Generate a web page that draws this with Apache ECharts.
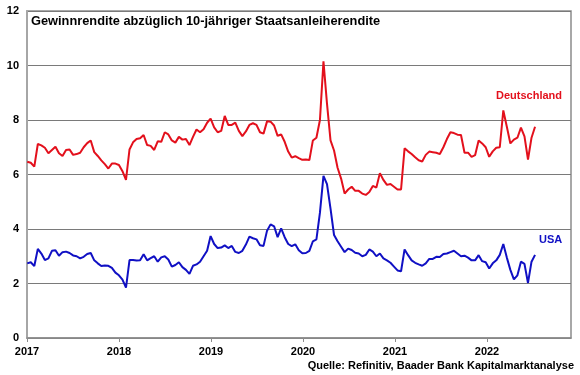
<!DOCTYPE html>
<html>
<head>
<meta charset="utf-8">
<script src="https://cdn.jsdelivr.net/npm/echarts@6/dist/echarts.min.js"></script>
<style>html,body{margin:0;padding:0;background:#fff}#c{width:580px;height:375px}</style>
</head>
<body>
<div id="c"></div>
<script>
// Fortnightly observations starting 2017-01-02
const startDate = '2017-01-02';
const stepDays = 14;
const deutschland = [
6.47,6.43,6.29,7.12,7.07,6.98,6.78,6.90,7.02,6.78,
6.68,6.90,6.92,6.72,6.75,6.80,7.00,7.15,7.25,6.82,
6.68,6.52,6.38,6.22,6.40,6.40,6.35,6.12,5.80,6.92,
7.18,7.30,7.33,7.45,7.08,7.05,6.90,7.22,7.20,7.55,
7.47,7.25,7.17,7.38,7.28,7.30,7.08,7.38,7.65,7.55,
7.66,7.90,8.05,7.73,7.55,7.60,8.15,7.82,7.82,7.90,
7.60,7.41,7.58,7.82,7.88,7.82,7.55,7.50,7.95,7.94,
7.80,7.42,7.47,7.20,6.84,6.62,6.67,6.60,6.54,6.55,
6.53,7.25,7.35,8.00,10.15,8.60,7.25,6.88,6.25,5.85,
5.30,5.45,5.55,5.40,5.40,5.30,5.25,5.36,5.58,5.52,
6.05,5.80,5.62,5.65,5.55,5.45,5.45,6.96,6.85,6.75,
6.63,6.52,6.48,6.72,6.84,6.82,6.80,6.75,7.00,7.30,
7.55,7.52,7.46,7.45,6.80,6.80,6.65,6.71,7.25,7.14,
7.00,6.65,6.85,6.98,7.00,8.35,7.75,7.14,7.28,7.35,
7.72,7.40,6.55,7.35,7.75
];
const usa = [
2.74,2.78,2.64,3.27,3.10,2.86,2.92,3.20,3.22,3.02,
3.15,3.17,3.12,3.03,3.00,2.92,2.98,3.08,3.12,2.85,
2.74,2.64,2.66,2.65,2.57,2.40,2.30,2.14,1.85,2.86,
2.86,2.84,2.85,3.07,2.85,2.93,3.00,2.80,2.96,3.00,
2.88,2.62,2.68,2.78,2.60,2.50,2.35,2.65,2.70,2.80,
3.00,3.20,3.74,3.45,3.30,3.32,3.40,3.30,3.38,3.16,
3.12,3.20,3.43,3.72,3.66,3.62,3.40,3.38,3.94,4.17,
4.10,3.70,4.02,3.70,3.45,3.37,3.44,3.22,3.11,3.12,
3.20,3.55,3.62,4.60,5.95,5.65,4.75,3.78,3.55,3.35,
3.15,3.28,3.23,3.13,3.10,3.00,3.05,3.25,3.17,3.00,
3.10,2.92,2.85,2.76,2.62,2.48,2.45,3.25,3.04,2.85,
2.76,2.70,2.65,2.74,2.90,2.90,2.98,2.97,3.08,3.10,
3.15,3.20,3.10,3.00,3.02,2.95,2.85,2.85,3.04,2.82,
2.78,2.55,2.74,2.85,3.05,3.45,2.95,2.50,2.15,2.30,
2.80,2.72,2.02,2.80,3.05
];
const yearTicks = ['2017','2018','2019','2020','2021','2022'];
const seriesNames = ['Deutschland','USA'];
const titleText = 'Gewinnrendite abzüglich 10-jähriger Staatsanleiherendite';
const sourceText = 'Quelle: Refinitiv, Baader Bank Kapitalmarktanalyse';

const t0 = new Date(startDate + 'T00:00:00Z');
const y0 = Date.UTC(2017,0,1);
function decYear(i){
  const t = t0.getTime() + i*stepDays*86400000;
  return 2017 + (t - y0)/(365.25*86400000);
}
const deData = deutschland.map((v,i)=>[decYear(i), v]);
const usData = usa.map((v,i)=>[decYear(i), v]);

const FONT = 'Liberation Sans, Arial, sans-serif';
const chart = echarts.init(document.getElementById('c'), null, {renderer:'canvas'});
chart.setOption({
  animation:false,
  backgroundColor:'#fff',
  grid:{left:27,right:9,top:11,bottom:37,show:true,borderColor:'#8c8c8c',borderWidth:1.5},
  xAxis:{
    type:'value', min:2017, max:2022.913, interval:1,
    axisLine:{show:true,lineStyle:{color:'#8c8c8c',width:1.5}},
    axisTick:{show:true,length:4,lineStyle:{color:'#8c8c8c'}},
    splitLine:{show:false},
    axisLabel:{show:true,margin:8,color:'#000',fontFamily:FONT,fontWeight:'bold',fontSize:11,
      showMaxLabel:false,
      formatter:function(v){const s=String(Math.round(v)); return (Math.abs(v-Math.round(v))<1e-6 && yearTicks.indexOf(s)>=0)?s:'';}}
  },
  yAxis:{
    type:'value', min:0, max:12, interval:2,
    axisLine:{show:true,lineStyle:{color:'#a6a6a6',width:2}},
    axisTick:{show:false},
    splitLine:{show:true,lineStyle:{color:'#7a7a7a',width:1}},
    axisLabel:{margin:8,color:'#000',fontFamily:FONT,fontWeight:'bold',fontSize:11}
  },
  series:[
    {name:seriesNames[0],type:'line',data:deData,showSymbol:false,symbol:'none',
     lineStyle:{color:'#e3101c',width:2},z:3},
    {name:seriesNames[1],type:'line',data:usData,showSymbol:false,symbol:'none',
     lineStyle:{color:'#1010c4',width:2},z:3}
  ],
  graphic:[
    {type:'text',left:31,top:15,style:{text:titleText,fill:'#000',font:'bold 12.8px '+FONT}},
    {type:'text',left:496,top:90,style:{text:seriesNames[0],fill:'#e3101c',font:'bold 11px '+FONT}},
    {type:'text',left:539,top:234,style:{text:seriesNames[1],fill:'#1010c4',font:'bold 11px '+FONT}},
    {type:'text',right:6,top:360,style:{text:sourceText,fill:'#000',font:'bold 11px '+FONT}}
  ]
});
</script>
</body>
</html>
